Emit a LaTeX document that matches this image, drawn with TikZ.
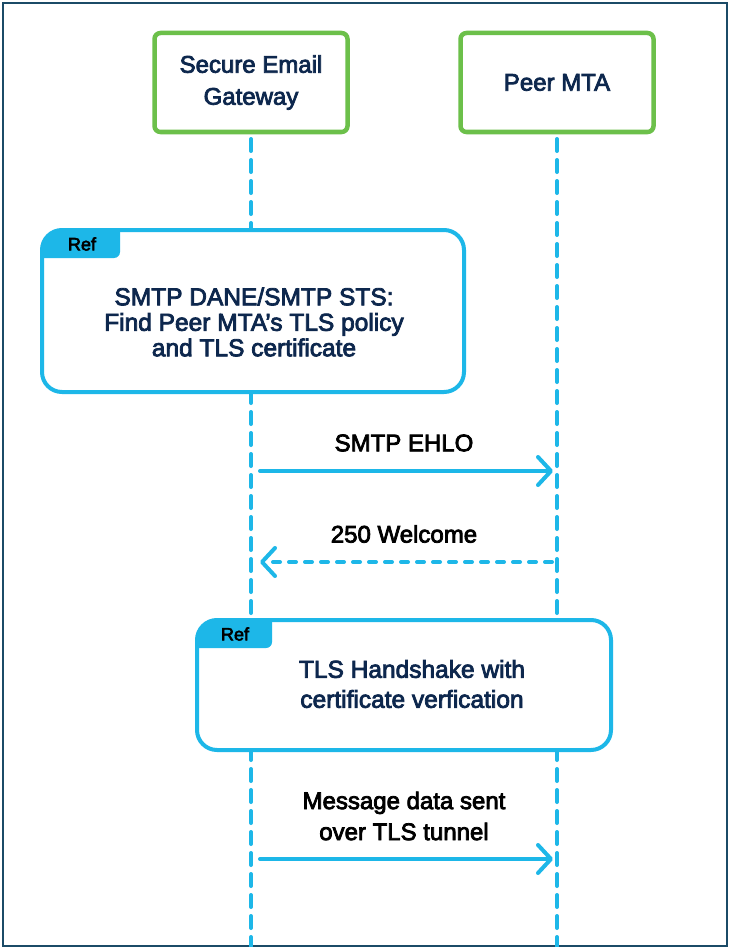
\documentclass[tikz,border=0pt]{standalone}
\usepackage{fontspec}
\setmainfont{Liberation Sans}[RawFeature={embolden=3.2}]
\usetikzlibrary{arrows.meta}

\definecolor{skyline}{HTML}{1DB7E8}
\definecolor{actorgreen}{HTML}{6CC04A}
\definecolor{navytext}{HTML}{0D274D}
\definecolor{framecol}{HTML}{1B4B67}

\tikzset{
  actor/.style={draw=actorgreen, line width=4.5pt, rounded corners=6pt,
    fill=white, minimum width=193pt, minimum height=99pt, align=center,
    text=navytext, font=\fontsize{24}{32}\selectfont, outer sep=0pt},
  lifeline/.style={draw=skyline, line width=4pt, line cap=round,
    dash pattern=on 12pt off 9pt},
  refbox/.style={fill=white, outer sep=0pt, inner sep=0pt},
  refborder/.style={draw=skyline, line width=4pt, rounded corners=20pt},
  reftab/.style={fill=skyline, rounded corners=6pt},
  reftext/.style={align=center, text=navytext, font=\fontsize{24.5}{25.5}\selectfont},
  tablabel/.style={text=black, font=\fontsize{18}{20}\selectfont},
  msg/.style={draw=skyline, line width=4pt, line cap=round,
    -{Straight Barb[length=13pt, width=28pt, line width=4pt, round]}},
  reply/.style={msg, dash pattern=on 7pt off 9pt},
  msglabel/.style={align=center, text=black, font=\fontsize{24}{31}\selectfont}
}

\begin{document}
\begin{tikzpicture}[x=1pt, y=-1pt]
  \useasboundingbox (0,0) rectangle (729,947);
  \fill[white] (0,0) rectangle (729,947);
  \draw[framecol, line width=2pt] (2.5,3.5) rectangle (727,945.5);

  % participants
  \node[actor] (seg)  at (251,82.5) {Secure Email\\Gateway};
  \node[actor] (peer) at (557,82.5) {Peer MTA};

  % lifelines
  \coordinate (segend)  at (seg.south  |- 0,947);
  \coordinate (peerend) at (peer.south |- 0,947);
  \draw[lifeline] ([yshift=-7pt]seg.south)  -- (segend);
  \draw[lifeline] ([yshift=-7pt]peer.south) -- (peerend);

  % first reference frame
  \node[refbox, minimum width=422pt, minimum height=162pt] (ref1) at (253,311) {};
  \begin{scope}
    \clip[rounded corners=20pt] (ref1.north west) rectangle (ref1.south east);
    \fill[reftab] ([xshift=-10pt, yshift=10pt]ref1.north west)
      rectangle ([xshift=78pt, yshift=-28pt]ref1.north west);
  \end{scope}
  \draw[refborder] (ref1.north west) rectangle (ref1.south east);
  \node[tablabel] (ref1tab) at ([xshift=40pt, yshift=-14pt]ref1.north west) {Ref};
  \node[reftext] (ref1text) at ([xshift=1pt, yshift=-11pt]ref1.center)
    {SMTP DANE/SMTP STS:\\Find Peer MTA’s TLS policy\\and TLS certificate};

  % messages
  \coordinate (ehloS) at (seg.south  |- 0,471);
  \coordinate (ehloT) at (peer.south |- 0,471);
  \draw[msg, shorten <=9pt, shorten >=4pt] (ehloS) -- node[msglabel, yshift=28pt] {SMTP EHLO} (ehloT);

  \coordinate (welS) at (peer.south |- 0,562);
  \coordinate (welT) at (seg.south  |- 0,562);
  \draw[reply, shorten <=5pt, shorten >=9pt] (welS) -- node[msglabel, yshift=28pt] {250 Welcome} (welT);

  % second reference frame
  \node[refbox, minimum width=414pt, minimum height=130pt] (ref2) at (404,685) {};
  \begin{scope}
    \clip[rounded corners=20pt] (ref2.north west) rectangle (ref2.south east);
    \fill[reftab] ([xshift=-10pt, yshift=10pt]ref2.north west)
      rectangle ([xshift=75pt, yshift=-28pt]ref2.north west);
  \end{scope}
  \draw[refborder] (ref2.north west) rectangle (ref2.south east);
  \node[tablabel] (ref2tab) at ([xshift=38pt, yshift=-14pt]ref2.north west) {Ref};
  \node[reftext, font=\fontsize{24.5}{30}\selectfont] (ref2text) at ([xshift=8pt, yshift=1pt]ref2.center)
    {TLS Handshake with\\certificate verfication};

  \coordinate (dataS) at (seg.south  |- 0,859);
  \coordinate (dataT) at (peer.south |- 0,859);
  \draw[msg, shorten <=9pt, shorten >=4pt] (dataS) -- node[msglabel, yshift=43pt] {Message data sent\\over TLS tunnel} (dataT);
\end{tikzpicture}
\end{document}
